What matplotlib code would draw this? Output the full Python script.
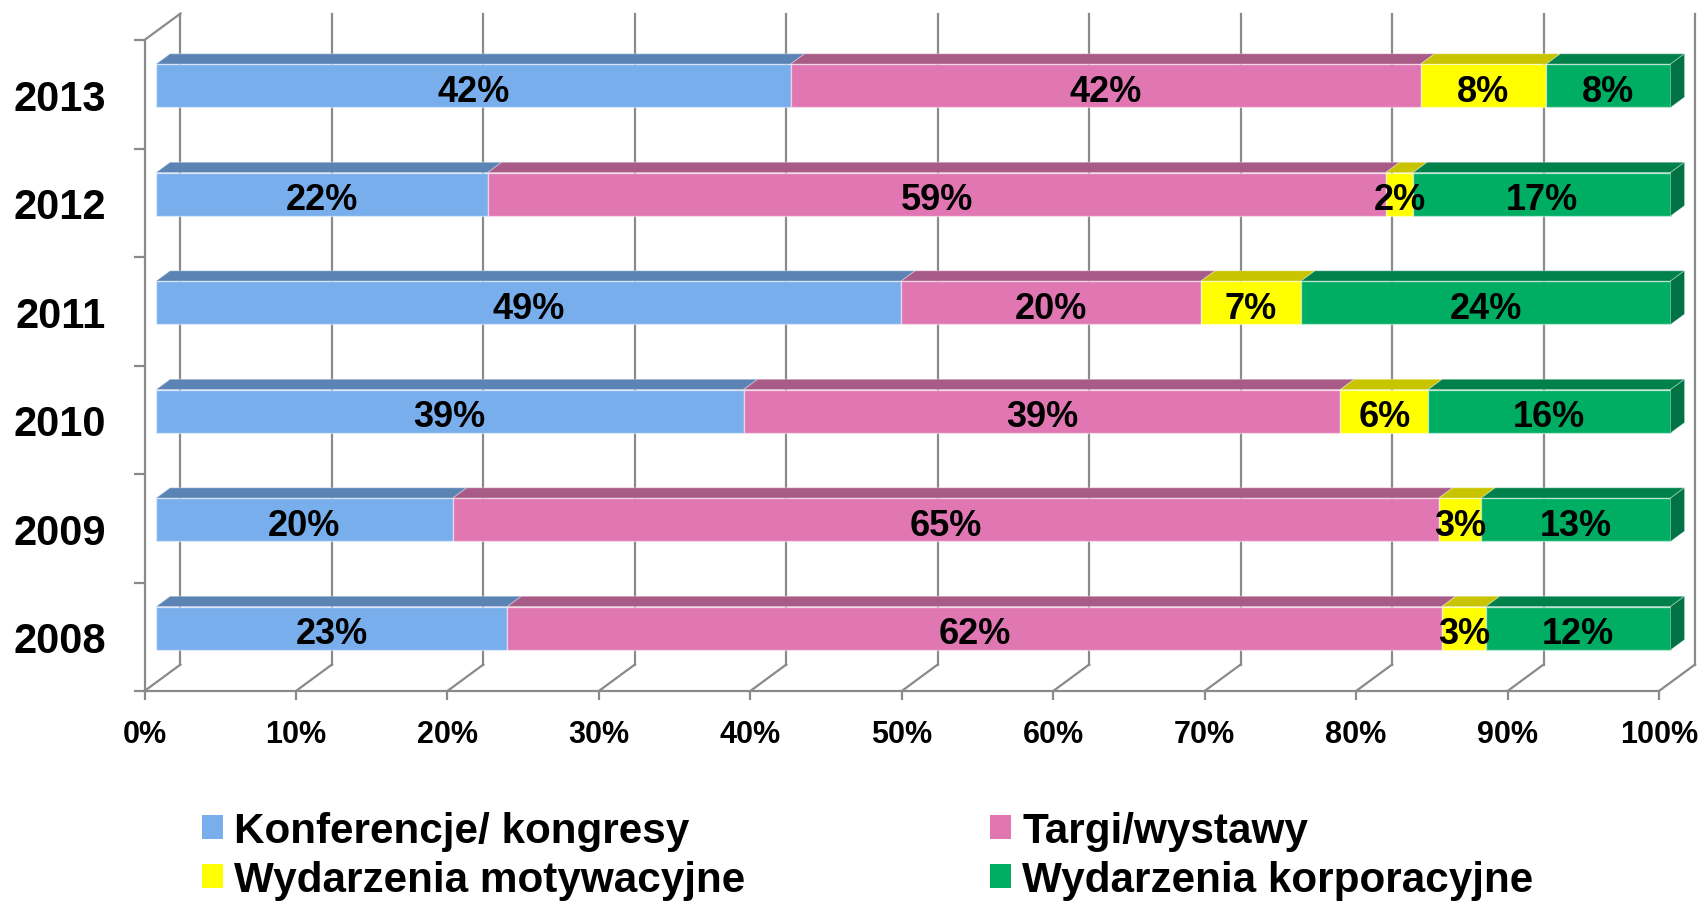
import numpy as np
import matplotlib
matplotlib.use('Agg')
import matplotlib.pyplot as plt
from matplotlib.patches import Polygon, Patch

plt.rcParams['font.family'] = ['Liberation Sans', 'DejaVu Sans']
plt.rcParams['font.weight'] = 'bold'

## dane (w %)
years = ['2008', '2009', '2010', '2011', '2012', '2013']
konf = [23.2, 19.6, 38.8, 49.2, 21.9, 41.9]
targi = [61.7, 65.1, 39.4, 19.8, 59.3, 41.6]
motyw = [2.9, 2.8, 5.8, 6.6, 1.8, 8.3]
korpo = [12.2, 12.5, 16.0, 24.4, 17.0, 8.2]
names = ['Konferencje/ kongresy', 'Targi/wystawy',
         'Wydarzenia motywacyjne', 'Wydarzenia korporacyjne']
xticks = list(range(0, 101, 10))

series = [konf, targi, motyw, korpo]
front_c = ['#78AEEC', '#E076B2', '#FFFF00', '#00AE63']
top_c = ['#5B84B5', '#A85B86', '#C8C400', '#00804A']
side_c = '#007243'
grid_c = '#8a8a8a'

## pseudo 3D
DX, DY = 2.376, 0.244   # przesuniecie glebi w jednostkach danych
z1, z2 = 0.32, 0.71     # przod / tyl slupka
h = 0.2                 # pol wysokosci slupka
n = len(years)

fig = plt.figure(figsize=(17.04, 9.03), dpi=100)
ax = fig.add_axes([144.5/1704, 1 - 692/903, (1659 - 144.5)/1704, 651/903])
ax.set_xlim(0, 100)
ax.set_ylim(0, n)

# sciany: podloga + tylna sciana
for x in xticks:
    ax.plot([x, x + DX], [0, DY], color=grid_c, lw=1.6, clip_on=False, zorder=1)
    ax.plot([x + DX, x + DX], [DY, n + DY], color=grid_c, lw=1.6, clip_on=False, zorder=1)
ax.plot([0, DX], [n, n + DY], color=grid_c, lw=1.6, clip_on=False, zorder=1)

for sp in ['top', 'right']:
    ax.spines[sp].set_visible(False)
for sp in ['left', 'bottom']:
    ax.spines[sp].set_color(grid_c)
    ax.spines[sp].set_linewidth(1.6)

# slupki
for i in range(n):
    yc = i + 0.5
    yb, yt = yc - h, yc + h
    left = 0
    for k, s in enumerate(series):
        v = s[i]
        x0, x1 = left, left + v
        fr = [(x0 + z1*DX, yb + z1*DY), (x1 + z1*DX, yb + z1*DY),
              (x1 + z1*DX, yt + z1*DY), (x0 + z1*DX, yt + z1*DY)]
        tp = [(x0 + z1*DX, yt + z1*DY), (x1 + z1*DX, yt + z1*DY),
              (x1 + z2*DX, yt + z2*DY), (x0 + z2*DX, yt + z2*DY)]
        ax.add_patch(Polygon(fr, closed=True, facecolor=front_c[k],
                             edgecolor=(1, 1, 1, 0.45), lw=1, clip_on=False, zorder=3))
        ax.add_patch(Polygon(tp, closed=True, facecolor=top_c[k],
                             edgecolor=(1, 1, 1, 0.3), lw=0.8, clip_on=False, zorder=3))
        if k == len(series) - 1:
            sd = [(x1 + z1*DX, yb + z1*DY), (x1 + z2*DX, yb + z2*DY),
                  (x1 + z2*DX, yt + z2*DY), (x1 + z1*DX, yt + z1*DY)]
            ax.add_patch(Polygon(sd, closed=True, facecolor=side_c,
                                 edgecolor=(1, 1, 1, 0.3), lw=0.8, clip_on=False, zorder=3))
        lab = '%d%%' % int(np.floor(v + 0.5))
        ax.text((x0 + x1)/2 + z1*DX, yc + z1*DY - 0.05, lab, ha='center', va='center',
                fontsize=26, fontweight='bold', color='black', zorder=5)
        left = x1

# osie
ax.set_xticks(xticks)
ax.set_xticklabels(['%d%%' % x for x in xticks])
ax.tick_params(axis='x', length=6.5, width=1.6, color=grid_c, labelsize=22, pad=14)
ax.set_yticks(range(0, n + 1))
ax.set_yticklabels([])
ax.set_yticks(np.arange(n) + 0.5, minor=True)
ax.set_yticklabels(years, minor=True)
ax.tick_params(axis='y', which='major', length=8, width=1.6, color=grid_c)
ax.tick_params(axis='y', which='minor', length=0, pad=27.7, labelsize=30)

# legenda
hd = [Patch(facecolor=c) for c in front_c]
order = [0, 2, 1, 3]
fig.legend([hd[j] for j in order], [names[j] for j in order], ncol=2,
           loc='center left', bbox_to_anchor=(0.1185, 0.0512), frameon=False,
           fontsize=30.4, handlelength=0.5, handleheight=0.5, handletextpad=0.26,
           columnspacing=5.8, labelspacing=0.22, borderpad=0, borderaxespad=0)

fig.savefig('out.png', dpi=100)
